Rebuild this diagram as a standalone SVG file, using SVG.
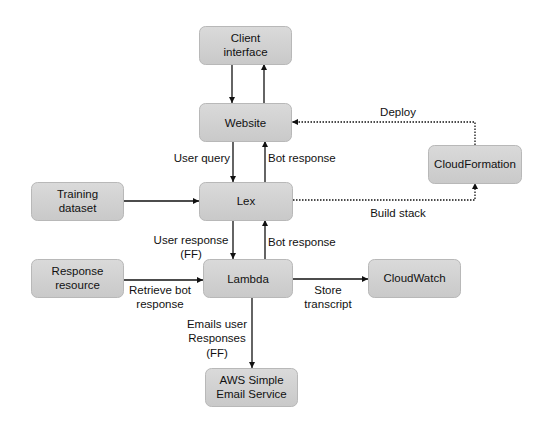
<svg xmlns="http://www.w3.org/2000/svg" width="535" height="423" viewBox="0 0 535 423">
<style>
.node rect{fill:url(#g);stroke:#b8b8b8;stroke-width:1}
text{font-family:"Liberation Sans",Arial,sans-serif;font-size:11.5px;fill:#111}
.nt{text-anchor:middle}
.e{stroke:#111;stroke-width:1.3;fill:none}
.d{stroke:#111;stroke-width:1.3;fill:none;stroke-dasharray:1.5 1.5}
</style>
<defs>
<linearGradient id="g" x1="0" y1="0" x2="0" y2="1">
<stop offset="0" stop-color="#dadada"/>
<stop offset="1" stop-color="#c9c9c9"/>
</linearGradient>
<marker id="a" viewBox="0 0 10 10" refX="10" refY="5" markerWidth="6" markerHeight="6" markerUnits="userSpaceOnUse" orient="auto">
<path d="M0,0 L10,5 L0,10 z" fill="#111"/>
</marker>
</defs>
<rect width="535" height="423" fill="#fff"/>
<g id="connectors">
<path class="e" d="M232,64 V103" marker-end="url(#a)"/>
<path class="e" d="M264,103 V64" marker-end="url(#a)"/>
<path class="e" d="M233,141 V182" marker-end="url(#a)"/>
<path class="e" d="M265,182 V141" marker-end="url(#a)"/>
<path class="e" d="M233,220 V259" marker-end="url(#a)"/>
<path class="e" d="M265,259 V220" marker-end="url(#a)"/>
<path class="e" d="M123,201 H199" marker-end="url(#a)"/>
<path class="e" d="M123,280 H203" marker-end="url(#a)"/>
<path class="e" d="M292,279 H368" marker-end="url(#a)"/>
<path class="e" d="M252,297 V368" marker-end="url(#a)"/>
<path class="d" d="M475,145 V122 H292" marker-end="url(#a)"/>
<path class="d" d="M293,200 H475 V183" marker-end="url(#a)"/>
</g>
<g id="labels">
<text x="398" y="116" class="nt">Deploy</text>
<text x="230" y="162" text-anchor="end">User query</text>
<text x="268" y="162">Bot response</text>
<text x="398" y="217" class="nt">Build stack</text>
<text x="191" y="244" class="nt">User response</text>
<text x="191" y="258" class="nt">(FF)</text>
<text x="268" y="246">Bot response</text>
<text x="160" y="294" class="nt">Retrieve bot</text>
<text x="160" y="308" class="nt">response</text>
<text x="328" y="294" class="nt">Store</text>
<text x="328" y="308" class="nt">transcript</text>
<text x="217" y="328" class="nt">Emails user</text>
<text x="217" y="342" class="nt">Responses</text>
<text x="217" y="357" class="nt">(FF)</text>
</g>
<g id="client" class="node"><rect x="199.5" y="26.5" width="92" height="38" rx="6"/><text x="245.5" y="42" class="nt">Client</text><text x="245.5" y="56" class="nt">interface</text></g>
<g id="website" class="node"><rect x="199.5" y="103.5" width="92" height="38" rx="6"/><text x="245.5" y="126.5" class="nt">Website</text></g>
<g id="lex" class="node"><rect x="199.5" y="182.5" width="93" height="38" rx="6"/><text x="246" y="205" class="nt">Lex</text></g>
<g id="lambda" class="node"><rect x="203.5" y="259.5" width="89" height="38" rx="6"/><text x="248" y="283" class="nt">Lambda</text></g>
<g id="training" class="node"><rect x="31.5" y="182.5" width="92" height="38" rx="6"/><text x="77.5" y="198" class="nt">Training</text><text x="77.5" y="212" class="nt">dataset</text></g>
<g id="response" class="node"><rect x="31.5" y="259.5" width="92" height="38" rx="6"/><text x="77.5" y="275" class="nt">Response</text><text x="77.5" y="289" class="nt">resource</text></g>
<g id="cloudformation" class="node"><rect x="428.5" y="145.5" width="93" height="38" rx="6"/><text x="475" y="168" class="nt">CloudFormation</text></g>
<g id="cloudwatch" class="node"><rect x="368.5" y="259.5" width="92" height="38" rx="6"/><text x="414.5" y="282" class="nt">CloudWatch</text></g>
<g id="ses" class="node"><rect x="205.5" y="368.5" width="92" height="38" rx="6"/><text x="251.5" y="384" class="nt">AWS Simple</text><text x="251.5" y="398" class="nt">Email Service</text></g>
</svg>
